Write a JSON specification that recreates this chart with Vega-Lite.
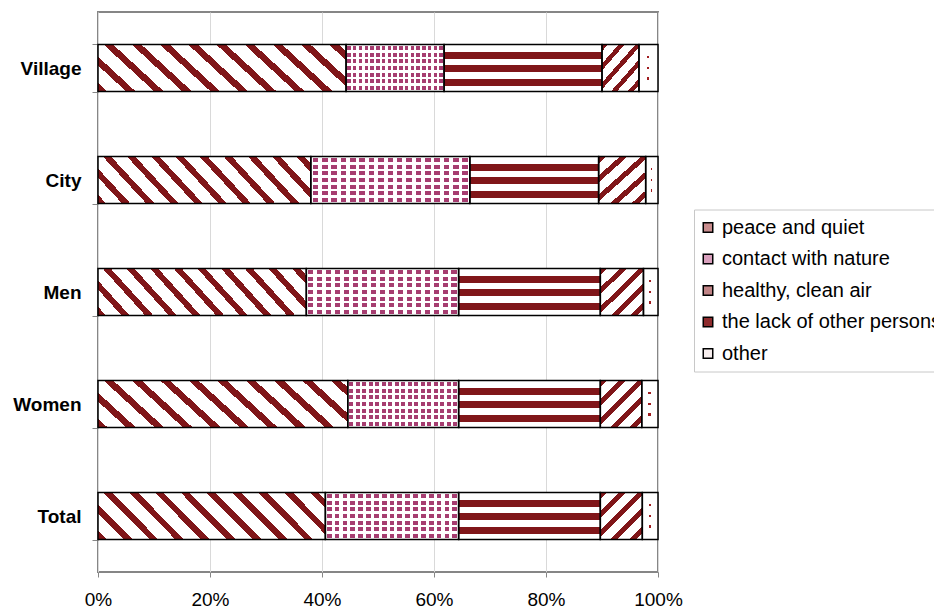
{
  "$schema": "https://vega.github.io/schema/vega-lite/v6.json",
  "width": 560,
  "height": 560,
  "autosize": {"type": "none"},
  "padding": {"left": 98, "top": 12, "right": 276, "bottom": 39},
  "background": "#ffffff",
  "config": {
    "font": "Liberation Sans",
    "view": {"stroke": "#868686", "strokeWidth": 2}
  },
  "data": {
    "values": [
      {"group": "Village", "category": "peace and quiet", "k": 1, "value": 44.3},
      {"group": "Village", "category": "contact with nature", "k": 2, "value": 17.5},
      {"group": "Village", "category": "healthy, clean air", "k": 3, "value": 28.2},
      {"group": "Village", "category": "the lack of other persons", "k": 4, "value": 6.6},
      {"group": "Village", "category": "other", "k": 5, "value": 3.4},
      {"group": "City", "category": "peace and quiet", "k": 1, "value": 38.0},
      {"group": "City", "category": "contact with nature", "k": 2, "value": 28.4},
      {"group": "City", "category": "healthy, clean air", "k": 3, "value": 23.0},
      {"group": "City", "category": "the lack of other persons", "k": 4, "value": 8.4},
      {"group": "City", "category": "other", "k": 5, "value": 2.2},
      {"group": "Men", "category": "peace and quiet", "k": 1, "value": 37.2},
      {"group": "Men", "category": "contact with nature", "k": 2, "value": 27.2},
      {"group": "Men", "category": "healthy, clean air", "k": 3, "value": 25.3},
      {"group": "Men", "category": "the lack of other persons", "k": 4, "value": 7.7},
      {"group": "Men", "category": "other", "k": 5, "value": 2.6},
      {"group": "Women", "category": "peace and quiet", "k": 1, "value": 44.6},
      {"group": "Women", "category": "contact with nature", "k": 2, "value": 19.8},
      {"group": "Women", "category": "healthy, clean air", "k": 3, "value": 25.3},
      {"group": "Women", "category": "the lack of other persons", "k": 4, "value": 7.4},
      {"group": "Women", "category": "other", "k": 5, "value": 2.9},
      {"group": "Total", "category": "peace and quiet", "k": 1, "value": 40.6},
      {"group": "Total", "category": "contact with nature", "k": 2, "value": 23.8},
      {"group": "Total", "category": "healthy, clean air", "k": 3, "value": 25.3},
      {"group": "Total", "category": "the lack of other persons", "k": 4, "value": 7.5},
      {"group": "Total", "category": "other", "k": 5, "value": 2.8}
    ]
  },
  "transform": [
    {"stack": "value", "groupby": ["group"], "sort": [{"field": "k", "order": "ascending"}], "offset": "normalize", "as": ["x0", "x1"]}
  ],
  "encoding": {
    "y": {
      "field": "group", "type": "nominal",
      "sort": ["Village", "City", "Men", "Women", "Total"],
      "scale": {"paddingInner": 0.58, "paddingOuter": 0.29},
      "axis": {"title": null, "domain": false, "grid": false, "tickBand": "extent", "ticks": true, "tickSize": 6, "tickColor": "#868686", "tickWidth": 1, "labelFontSize": 19, "labelFontWeight": "bold", "labelPadding": 11, "labelColor": "#000000"}
    },
    "x": {
      "field": "x0", "type": "quantitative",
      "scale": {"domain": [0, 1], "nice": false},
      "axis": {"title": null, "format": ".0%", "values": [0, 0.2, 0.4, 0.6, 0.8, 1], "domain": false, "grid": true, "gridColor": "#d9d9d9", "gridWidth": 1, "tickColor": "#868686", "tickSize": 5, "labelFontSize": 19, "labelPadding": 13, "labelColor": "#000000", "labelFlush": false}
    },
    "x2": {"field": "x1"}
  },
  "layer": [
    {
      "mark": {"type": "bar", "opacity": 1},
      "encoding": {
        "color": {
          "field": "category", "type": "nominal",
          "scale": {
            "domain": ["peace and quiet", "contact with nature", "healthy, clean air", "the lack of other persons", "other"],
            "range": ["#c98d8e", "#d9a0bd", "#c08486", "#8e2b2d", "#f7eeee"]
          },
          "legend": {
            "title": null, "orient": "none", "legendX": 596, "legendY": 197.5,
            "symbolType": "square", "symbolSize": 90, "symbolStrokeColor": "#000000", "symbolStrokeWidth": 1.5, "symbolOpacity": 1, "symbolOffset": -4,
            "labelFontSize": 20, "labelColor": "#000000", "rowPadding": 11.5, "padding": 8,
            "strokeColor": "#c8c8c8", "fillColor": "#ffffff", "labelOffset": 4, "labelLimit": 400
          }
        }
      }
    },
    {
      "transform": [{"filter": {"field": "category", "equal": "peace and quiet"}}],
      "mark": {"type": "bar", "fill": {"gradient": "linear", "x1": 0, "y1": 1, "x2": 1.156, "y2": 0.763, "stops": [
        {"offset": 0, "color": "#801619"}, {"offset": 0.032, "color": "#801619"}, {"offset": 0.032, "color": "#ffffff"}, {"offset": 0.0943, "color": "#ffffff"},
        {"offset": 0.0943, "color": "#801619"}, {"offset": 0.1263, "color": "#801619"}, {"offset": 0.1263, "color": "#ffffff"}, {"offset": 0.1886, "color": "#ffffff"},
        {"offset": 0.1886, "color": "#801619"}, {"offset": 0.2206, "color": "#801619"}, {"offset": 0.2206, "color": "#ffffff"}, {"offset": 0.2829, "color": "#ffffff"},
        {"offset": 0.2829, "color": "#801619"}, {"offset": 0.3149, "color": "#801619"}, {"offset": 0.3149, "color": "#ffffff"}, {"offset": 0.3772, "color": "#ffffff"},
        {"offset": 0.3772, "color": "#801619"}, {"offset": 0.4092, "color": "#801619"}, {"offset": 0.4092, "color": "#ffffff"}, {"offset": 0.4715, "color": "#ffffff"},
        {"offset": 0.4715, "color": "#801619"}, {"offset": 0.5035, "color": "#801619"}, {"offset": 0.5035, "color": "#ffffff"}, {"offset": 0.5658, "color": "#ffffff"},
        {"offset": 0.5658, "color": "#801619"}, {"offset": 0.5978, "color": "#801619"}, {"offset": 0.5978, "color": "#ffffff"}, {"offset": 0.6601, "color": "#ffffff"},
        {"offset": 0.6601, "color": "#801619"}, {"offset": 0.6921, "color": "#801619"}, {"offset": 0.6921, "color": "#ffffff"}, {"offset": 0.7544, "color": "#ffffff"},
        {"offset": 0.7544, "color": "#801619"}, {"offset": 0.7864, "color": "#801619"}, {"offset": 0.7864, "color": "#ffffff"}, {"offset": 0.8487, "color": "#ffffff"},
        {"offset": 0.8487, "color": "#801619"}, {"offset": 0.8807, "color": "#801619"}, {"offset": 0.8807, "color": "#ffffff"}, {"offset": 0.943, "color": "#ffffff"},
        {"offset": 0.943, "color": "#801619"}, {"offset": 0.975, "color": "#801619"}, {"offset": 0.975, "color": "#ffffff"}, {"offset": 1, "color": "#ffffff"}
      ]}}
    },
    {
      "transform": [{"filter": {"field": "category", "equal": "contact with nature"}}],
      "mark": {"type": "bar", "fill": "#a63d70"}
    },
    {
      "transform": [{"filter": {"field": "category", "equal": "contact with nature"}}],
      "mark": {"type": "bar", "fill": {"gradient": "linear", "x1": 0, "y1": 0, "x2": 0, "y2": 1, "stops": [
        {"offset": 0, "color": "#ffffff"}, {"offset": 0.0286, "color": "#ffffff"}, {"offset": 0.0286, "color": "rgba(255,255,255,0)"}, {"offset": 0.1143, "color": "rgba(255,255,255,0)"},
        {"offset": 0.1143, "color": "#ffffff"}, {"offset": 0.1714, "color": "#ffffff"}, {"offset": 0.1714, "color": "rgba(255,255,255,0)"}, {"offset": 0.2571, "color": "rgba(255,255,255,0)"},
        {"offset": 0.2571, "color": "#ffffff"}, {"offset": 0.3143, "color": "#ffffff"}, {"offset": 0.3143, "color": "rgba(255,255,255,0)"}, {"offset": 0.4, "color": "rgba(255,255,255,0)"},
        {"offset": 0.4, "color": "#ffffff"}, {"offset": 0.4571, "color": "#ffffff"}, {"offset": 0.4571, "color": "rgba(255,255,255,0)"}, {"offset": 0.5429, "color": "rgba(255,255,255,0)"},
        {"offset": 0.5429, "color": "#ffffff"}, {"offset": 0.6, "color": "#ffffff"}, {"offset": 0.6, "color": "rgba(255,255,255,0)"}, {"offset": 0.6857, "color": "rgba(255,255,255,0)"},
        {"offset": 0.6857, "color": "#ffffff"}, {"offset": 0.7429, "color": "#ffffff"}, {"offset": 0.7429, "color": "rgba(255,255,255,0)"}, {"offset": 0.8286, "color": "rgba(255,255,255,0)"},
        {"offset": 0.8286, "color": "#ffffff"}, {"offset": 0.8857, "color": "#ffffff"}, {"offset": 0.8857, "color": "rgba(255,255,255,0)"}, {"offset": 0.9714, "color": "rgba(255,255,255,0)"},
        {"offset": 0.9714, "color": "#ffffff"}, {"offset": 1, "color": "#ffffff"}
      ]}}
    },
    {
      "transform": [{"filter": {"field": "category", "equal": "contact with nature"}}],
      "mark": {"type": "bar", "fill": {"gradient": "linear", "x1": 0, "y1": 0, "x2": 1, "y2": 0, "stops": [
        {"offset": 0, "color": "#ffffff"}, {"offset": 0.0118, "color": "#ffffff"}, {"offset": 0.0118, "color": "rgba(255,255,255,0)"}, {"offset": 0.0471, "color": "rgba(255,255,255,0)"},
        {"offset": 0.0471, "color": "#ffffff"}, {"offset": 0.0706, "color": "#ffffff"}, {"offset": 0.0706, "color": "rgba(255,255,255,0)"}, {"offset": 0.1059, "color": "rgba(255,255,255,0)"},
        {"offset": 0.1059, "color": "#ffffff"}, {"offset": 0.1294, "color": "#ffffff"}, {"offset": 0.1294, "color": "rgba(255,255,255,0)"}, {"offset": 0.1647, "color": "rgba(255,255,255,0)"},
        {"offset": 0.1647, "color": "#ffffff"}, {"offset": 0.1882, "color": "#ffffff"}, {"offset": 0.1882, "color": "rgba(255,255,255,0)"}, {"offset": 0.2235, "color": "rgba(255,255,255,0)"},
        {"offset": 0.2235, "color": "#ffffff"}, {"offset": 0.2471, "color": "#ffffff"}, {"offset": 0.2471, "color": "rgba(255,255,255,0)"}, {"offset": 0.2824, "color": "rgba(255,255,255,0)"},
        {"offset": 0.2824, "color": "#ffffff"}, {"offset": 0.3059, "color": "#ffffff"}, {"offset": 0.3059, "color": "rgba(255,255,255,0)"}, {"offset": 0.3412, "color": "rgba(255,255,255,0)"},
        {"offset": 0.3412, "color": "#ffffff"}, {"offset": 0.3647, "color": "#ffffff"}, {"offset": 0.3647, "color": "rgba(255,255,255,0)"}, {"offset": 0.4, "color": "rgba(255,255,255,0)"},
        {"offset": 0.4, "color": "#ffffff"}, {"offset": 0.4235, "color": "#ffffff"}, {"offset": 0.4235, "color": "rgba(255,255,255,0)"}, {"offset": 0.4588, "color": "rgba(255,255,255,0)"},
        {"offset": 0.4588, "color": "#ffffff"}, {"offset": 0.4824, "color": "#ffffff"}, {"offset": 0.4824, "color": "rgba(255,255,255,0)"}, {"offset": 0.5176, "color": "rgba(255,255,255,0)"},
        {"offset": 0.5176, "color": "#ffffff"}, {"offset": 0.5412, "color": "#ffffff"}, {"offset": 0.5412, "color": "rgba(255,255,255,0)"}, {"offset": 0.5765, "color": "rgba(255,255,255,0)"},
        {"offset": 0.5765, "color": "#ffffff"}, {"offset": 0.6, "color": "#ffffff"}, {"offset": 0.6, "color": "rgba(255,255,255,0)"}, {"offset": 0.6353, "color": "rgba(255,255,255,0)"},
        {"offset": 0.6353, "color": "#ffffff"}, {"offset": 0.6588, "color": "#ffffff"}, {"offset": 0.6588, "color": "rgba(255,255,255,0)"}, {"offset": 0.6941, "color": "rgba(255,255,255,0)"},
        {"offset": 0.6941, "color": "#ffffff"}, {"offset": 0.7176, "color": "#ffffff"}, {"offset": 0.7176, "color": "rgba(255,255,255,0)"}, {"offset": 0.7529, "color": "rgba(255,255,255,0)"},
        {"offset": 0.7529, "color": "#ffffff"}, {"offset": 0.7765, "color": "#ffffff"}, {"offset": 0.7765, "color": "rgba(255,255,255,0)"}, {"offset": 0.8118, "color": "rgba(255,255,255,0)"},
        {"offset": 0.8118, "color": "#ffffff"}, {"offset": 0.8353, "color": "#ffffff"}, {"offset": 0.8353, "color": "rgba(255,255,255,0)"}, {"offset": 0.8706, "color": "rgba(255,255,255,0)"},
        {"offset": 0.8706, "color": "#ffffff"}, {"offset": 0.8941, "color": "#ffffff"}, {"offset": 0.8941, "color": "rgba(255,255,255,0)"}, {"offset": 0.9294, "color": "rgba(255,255,255,0)"},
        {"offset": 0.9294, "color": "#ffffff"}, {"offset": 0.9529, "color": "#ffffff"}, {"offset": 0.9529, "color": "rgba(255,255,255,0)"}, {"offset": 0.9882, "color": "rgba(255,255,255,0)"},
        {"offset": 0.9882, "color": "#ffffff"}, {"offset": 1, "color": "#ffffff"}
      ]}}
    },
    {
      "transform": [{"filter": {"field": "category", "equal": "healthy, clean air"}}],
      "mark": {"type": "bar", "fill": {"gradient": "linear", "x1": 0, "y1": 0, "x2": 0, "y2": 1, "stops": [
        {"offset": 0, "color": "#ffffff"}, {"offset": 0.15, "color": "#ffffff"}, {"offset": 0.15, "color": "#801619"}, {"offset": 0.3, "color": "#801619"},
        {"offset": 0.3, "color": "#ffffff"}, {"offset": 0.445, "color": "#ffffff"}, {"offset": 0.445, "color": "#801619"}, {"offset": 0.595, "color": "#801619"},
        {"offset": 0.595, "color": "#ffffff"}, {"offset": 0.74, "color": "#ffffff"}, {"offset": 0.74, "color": "#801619"}, {"offset": 0.885, "color": "#801619"},
        {"offset": 0.885, "color": "#ffffff"}, {"offset": 1, "color": "#ffffff"}
      ]}}
    },
    {
      "transform": [{"filter": {"field": "category", "equal": "the lack of other persons"}}],
      "mark": {"type": "bar", "fill": {"gradient": "linear", "x1": 0, "y1": 0, "x2": 0.941, "y2": 1.053, "stops": [
        {"offset": 0, "color": "#801619"}, {"offset": 0.077, "color": "#801619"}, {"offset": 0.077, "color": "#ffffff"}, {"offset": 0.2135, "color": "#ffffff"},
        {"offset": 0.2135, "color": "#801619"}, {"offset": 0.2905, "color": "#801619"}, {"offset": 0.2905, "color": "#ffffff"}, {"offset": 0.427, "color": "#ffffff"},
        {"offset": 0.427, "color": "#801619"}, {"offset": 0.504, "color": "#801619"}, {"offset": 0.504, "color": "#ffffff"}, {"offset": 0.6405, "color": "#ffffff"},
        {"offset": 0.6405, "color": "#801619"}, {"offset": 0.7175, "color": "#801619"}, {"offset": 0.7175, "color": "#ffffff"}, {"offset": 0.854, "color": "#ffffff"},
        {"offset": 0.854, "color": "#801619"}, {"offset": 0.931, "color": "#801619"}, {"offset": 0.931, "color": "#ffffff"}, {"offset": 1, "color": "#ffffff"}
      ]}}
    },
    {
      "transform": [{"filter": {"field": "category", "equal": "other"}}],
      "mark": {"type": "bar", "fill": "#a01c1f"}
    },
    {
      "transform": [{"filter": {"field": "category", "equal": "other"}}],
      "mark": {"type": "bar", "fill": {"gradient": "linear", "x1": 0, "y1": 0, "x2": 0, "y2": 1, "stops": [
        {"offset": 0, "color": "#ffffff"}, {"offset": 0.24, "color": "#ffffff"}, {"offset": 0.24, "color": "rgba(255,255,255,0)"}, {"offset": 0.285, "color": "rgba(255,255,255,0)"},
        {"offset": 0.285, "color": "#ffffff"}, {"offset": 0.47, "color": "#ffffff"}, {"offset": 0.47, "color": "rgba(255,255,255,0)"}, {"offset": 0.515, "color": "rgba(255,255,255,0)"},
        {"offset": 0.515, "color": "#ffffff"}, {"offset": 0.7, "color": "#ffffff"}, {"offset": 0.7, "color": "rgba(255,255,255,0)"}, {"offset": 0.745, "color": "rgba(255,255,255,0)"},
        {"offset": 0.745, "color": "#ffffff"}, {"offset": 1, "color": "#ffffff"}
      ]}}
    },
    {
      "transform": [{"filter": {"field": "category", "equal": "other"}}],
      "mark": {"type": "bar", "fill": {"gradient": "linear", "x1": 0, "y1": 0, "x2": 1, "y2": 0, "stops": [
        {"offset": 0, "color": "#ffffff"}, {"offset": 0.4, "color": "#ffffff"}, {"offset": 0.4, "color": "rgba(255,255,255,0)"}, {"offset": 0.54, "color": "rgba(255,255,255,0)"},
        {"offset": 0.54, "color": "#ffffff"}, {"offset": 1, "color": "#ffffff"}
      ]}}
    },
    {
      "mark": {"type": "bar", "fillOpacity": 0, "stroke": "#000000", "strokeWidth": 1.5}
    }
  ]
}
